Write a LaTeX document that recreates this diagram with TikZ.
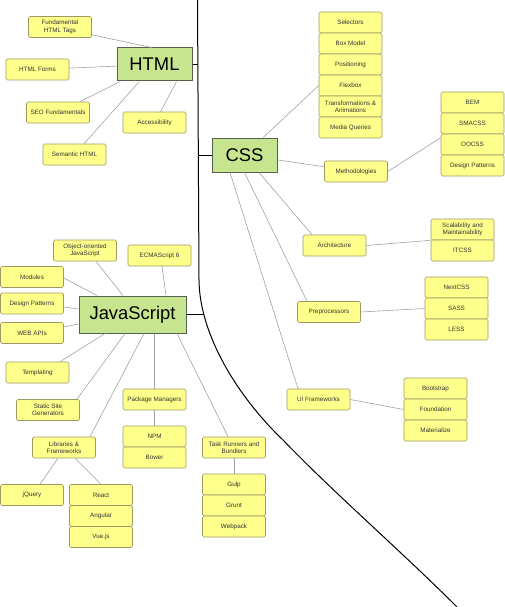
\documentclass[tikz,border=0pt]{standalone}
\usepackage{fontspec}
\setmainfont{Liberation Sans}
\usepackage{tikz}
\usetikzlibrary{calc}
\definecolor{leafyellow}{HTML}{FFFF8C}
\definecolor{leafborder}{HTML}{9C9A62}
\definecolor{topicgreen}{HTML}{C6E58E}
\definecolor{topicborder}{HTML}{56604C}
\definecolor{linkgray}{HTML}{A2A2A2}
\definecolor{inkgray}{HTML}{333333}
\tikzset{
	leaf/.style={draw=leafborder, fill=leafyellow, line width=0.6pt, rounded corners=1.5pt, minimum width=63pt, minimum height=21pt, inner sep=1pt, align=center, text=inkgray, font=\fontsize{6.3}{7.4}\selectfont},
	topic/.style={draw=topicborder, fill=topicgreen, line width=1pt, inner sep=0pt, text=black, font=\fontsize{18.4}{20}\selectfont},
	link/.style={draw=linkgray, line width=0.6pt},
	spineline/.style={draw=black, line width=1pt}
}

\begin{document}
\begin{tikzpicture}[x=1pt, y=-1pt]
		%%%%% START %%%%%
		\useasboundingbox (0, 0) rectangle (505, 607);
		
		\coordinate (spine) at (197.5, 0);
		\coordinate (jsjoin) at (204, 314.5);
		\draw[spineline] (197.5, 0) -- (199, 280) .. controls (199.5, 335) and (238, 397) .. (283, 440) .. controls (335, 494) and (400, 550) .. (457, 607);
		
		%% HTML
		\node[topic, minimum width=75pt, minimum height=33pt] (html) at (154.5, 64.5) {HTML};
		\node[leaf] (fht) at (60, 27) {Fundamental\\HTML Tags};
		\node[leaf] (forms) at (37.5, 69.5) {HTML Forms};
		\node[leaf] (seo) at (58, 112.5) {SEO Fundamentals};
		\node[leaf] (access) at (154.5, 122.5) {Accessibility};
		\node[leaf] (semhtml) at (74.5, 154.5) {Semantic HTML};
		
		\draw[link] ([yshift=3pt]fht.south east) -- ([xshift=-3pt]html.north);
		\draw[link] (forms) -- (html);
		\draw[link] (seo) -- (html);
		\draw[link] (semhtml) -- (html);
		\draw[link] ([xshift=6pt]access.north) -- ([xshift=22pt]html.south);
		\draw[spineline] (html.east) -- (html.east -| spine);
		
		%% CSS
		\node[topic, minimum width=65pt, minimum height=34pt] (css) at (244.5, 155) {CSS};
		\draw[spineline] (css.west) -- (css.west -| spine);
		
		\node[leaf] (select) at (350.5, 22.5) {Selectors};
		\node[leaf] (boxmodel) at (350.5, 43.5) {Box Model};
		\node[leaf] (position) at (350.5, 64.5) {Positioning};
		\node[leaf] (flexbox) at (350.5, 85.5) {Flexbox};
		\node[leaf] (transform) at (350.5, 106.5) {Transformations \&\\Animations};
		\node[leaf] (media) at (350.5, 127.5) {Media Queries};
		\draw[link] (css) -- (flexbox.west);
		
		\node[leaf] (method) at (356, 171.5) {Methodologies};
		\node[leaf] (bem) at (472.5, 102.5) {BEM};
		\node[leaf] (smacss) at (472.5, 123.5) {SMACSS};
		\node[leaf] (oocss) at (472.5, 144.5) {OOCSS};
		\node[leaf] (dpcss) at (472.5, 165.5) {Design Patterns};
		\draw[link] (css) -- (method);
		\draw[link] (method.east) -- ([yshift=-4pt]oocss.north west);
		
		\node[leaf] (arch) at (334.5, 245.5) {Architecture};
		\node[leaf] (scal) at (462.5, 229.5) {Scalability and\\Maintainability};
		\node[leaf] (itcss) at (462.5, 250.5) {ITCSS};
		\draw[link] ([xshift=14.5pt]css.south) -- ([xshift=-22.5pt]arch.north);
		\draw[link] (arch.east) -- (scal.south west);
		
		\node[leaf] (pre) at (329, 312) {Preprocessors};
		\node[leaf] (nextcss) at (456.5, 287.5) {NextCSS};
		\node[leaf] (sass) at (456.5, 308.5) {SASS};
		\node[leaf] (less) at (456.5, 329.5) {LESS};
		\draw[link] (css.south) -- ([xshift=-22pt]pre.north);
		\draw[link] (pre.east) -- (sass.west);
		
		\node[leaf] (ui) at (318.5, 399.5) {UI Frameworks};
		\node[leaf] (boot) at (435.5, 388.5) {Bootstrap};
		\node[leaf] (found) at (435.5, 409.5) {Foundation};
		\node[leaf] (mater) at (435.5, 430.5) {Materialize};
		\draw[link] ([xshift=-14.5pt]css.south) -- ([xshift=-20.5pt]ui.north);
		\draw[link] (ui.east) -- (found.west);
		
		%% JavaScript
		\node[topic, minimum width=107pt, minimum height=37pt] (js) at (132.5, 314.5) {JavaScript};
		\draw[spineline] (js.east) -- (jsjoin);
		
		\node[leaf] (oojs) at (85, 250.5) {Object-oriented\\JavaScript};
		\node[leaf] (ecma) at (159.5, 255.5) {ECMAScript 6};
		\node[leaf] (modules) at (32, 277) {Modules};
		\node[leaf] (dpjs) at (32, 303.5) {Design Patterns};
		\node[leaf] (webapi) at (32, 333) {WEB APIs};
		\node[leaf] (templ) at (37.5, 372.5) {Templating};
		\node[leaf] (ssg) at (48, 410) {Static Site\\Generators};
		
		\draw[link] ([xshift=11pt]oojs.south) -- ([xshift=-9.5pt]js.north);
		\draw[link] ([xshift=2.5pt]ecma.south) -- ([xshift=33.5pt]js.north);
		\draw[link] ([yshift=-1pt]modules.east) -- ([xshift=-35.5pt]js.north);
		\draw[link] ([yshift=-3.5pt]dpjs.east) -- ([yshift=5.5pt]js.west);
		\draw[link] ([yshift=6pt]webapi.east) -- ([yshift=-9.5pt]js.west);
		\draw[link] ([xshift=22.5pt]templ.north) -- ([xshift=-27.5pt]js.south);
		\draw[link] ([xshift=29pt]ssg.north) -- ([xshift=-7.5pt]js.south);
		
		\node[leaf] (libs) at (64, 447.5) {Libraries \&\\Frameworks};
		\node[leaf] (jquery) at (32, 495) {jQuery};
		\node[leaf] (react) at (101, 495) {React};
		\node[leaf] (angular) at (101, 516) {Angular};
		\node[leaf] (vue) at (101, 537) {Vue.js};
		\draw[link] ([xshift=26pt]libs.north) -- ([xshift=11.5pt]js.south);
		\draw[link] ([xshift=-6pt]libs.south) -- ([xshift=8pt]jquery.north);
		\draw[link] ([xshift=11pt]libs.south) -- (react.north);
		
		\node[leaf] (pm) at (154.5, 399.5) {Package Managers};
		\node[leaf] (npm) at (154.5, 436.5) {NPM};
		\node[leaf] (bower) at (154.5, 457.5) {Bower};
		\draw[link] (pm.north) -- (pm.north |- js.south);
		\draw[link] (pm) -- (npm);
		
		\node[leaf] (task) at (234, 447.5) {Task Runners and\\Bundlers};
		\node[leaf] (gulp) at (234, 484.5) {Gulp};
		\node[leaf] (grunt) at (234, 505.5) {Grunt};
		\node[leaf] (webpack) at (234, 526.5) {Webpack};
		\draw[link] ([xshift=44.5pt]js.south) -- ([xshift=-6pt]task.north);
		\draw[link] (task) -- (gulp);
		
		%%%%% END %%%%%
\end{tikzpicture}
\end{document}
